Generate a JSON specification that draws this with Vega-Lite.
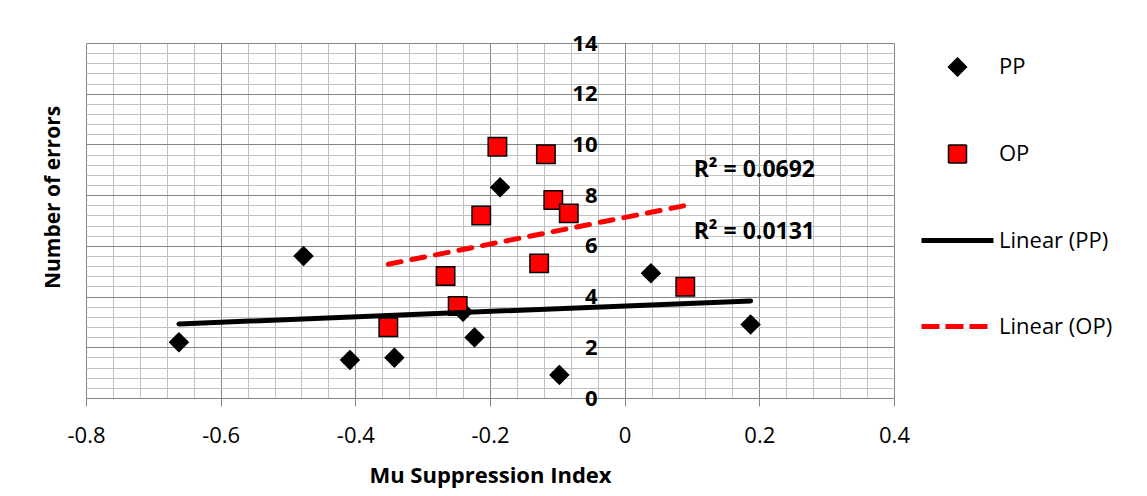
{
  "$schema": "https://vega.github.io/schema/vega-lite/v6.json",
  "width": 808,
  "height": 355,
  "autosize": {"type": "none"},
  "padding": {"left": 86, "top": 43, "right": 253, "bottom": 98},
  "background": "white",
  "config": {
    "view": {"stroke": null},
    "font": "Open Sans",
    "axis": {"labelColor": "black", "titleColor": "black", "labelFont": "Open Sans", "titleFont": "Open Sans"},
    "legend": {
      "orient": "none",
      "legendX": 860,
      "legendY": 13,
      "direction": "vertical",
      "padding": 0,
      "symbolSize": 324,
      "symbolOffset": 0,
      "labelFont": "Open Sans",
      "labelFontSize": 22,
      "labelColor": "black",
      "labelOffset": 30,
      "rowPadding": 63,
      "symbolOpacity": 1
    }
  },
  "datasets": {
    "pts": [
      {"series": "PP", "x": -0.662, "y": 2.20},
      {"series": "PP", "x": -0.477, "y": 5.60},
      {"series": "PP", "x": -0.408, "y": 1.50},
      {"series": "PP", "x": -0.342, "y": 1.59},
      {"series": "PP", "x": -0.240, "y": 3.40},
      {"series": "PP", "x": -0.223, "y": 2.39},
      {"series": "PP", "x": -0.185, "y": 8.31},
      {"series": "PP", "x": -0.097, "y": 0.91},
      {"series": "PP", "x": 0.039, "y": 4.92},
      {"series": "PP", "x": 0.187, "y": 2.90},
      {"series": "OP", "x": -0.351, "y": 2.79},
      {"series": "OP", "x": -0.266, "y": 4.81},
      {"series": "OP", "x": -0.248, "y": 3.63},
      {"series": "OP", "x": -0.213, "y": 7.20},
      {"series": "OP", "x": -0.189, "y": 9.91},
      {"series": "OP", "x": -0.127, "y": 5.31},
      {"series": "OP", "x": -0.117, "y": 9.61},
      {"series": "OP", "x": -0.106, "y": 7.81},
      {"series": "OP", "x": -0.083, "y": 7.28},
      {"series": "OP", "x": 0.090, "y": 4.39}
    ],
    "r2": [
      {"x": 0.1025, "y": 8.99, "label": "R² = 0.0692"},
      {"x": 0.1025, "y": 6.55, "label": "R² = 0.0131"}
    ]
  },
  "layer": [
    {
      "data": {"name": "pts"},
      "mark": {"type": "point", "filled": true, "size": 340, "opacity": 1},
      "encoding": {
        "x": {
          "field": "x", "type": "quantitative",
          "scale": {"domain": [-0.8, 0.4], "nice": false, "zero": false},
          "axis": {
            "values": [-0.8, -0.76, -0.72, -0.68, -0.64, -0.6, -0.56, -0.52, -0.48, -0.44, -0.4, -0.36, -0.32, -0.28, -0.24, -0.2, -0.16, -0.12, -0.08, -0.04, 0, 0.04, 0.08, 0.12, 0.16, 0.2, 0.24, 0.28, 0.32, 0.36, 0.4],
            "tickCount": 200,
            "grid": true,
            "gridColor": {"condition": {"test": "abs(datum.value*5 - round(datum.value*5)) < 0.001", "value": "#868686"}, "value": "#c0c0c0"},
            "gridWidth": 1,
            "labelExpr": "abs(datum.value*5 - round(datum.value*5)) < 0.001 ? toString(datum.value) : ''",
            "labelOverlap": false,
            "labelFlush": false,
            "labelFontSize": 22,
            "labelBaseline": "middle",
            "labelPadding": 29,
            "ticks": true,
            "tickSize": 8,
            "tickColor": "#868686",
            "tickOpacity": {"condition": {"test": "abs(datum.value*5 - round(datum.value*5)) < 0.001", "value": 1}, "value": 0},
            "domain": true,
            "domainColor": "#868686",
            "title": "Mu Suppression Index",
            "titleFontSize": 22,
            "titleFontWeight": "bold",
            "titleBaseline": "middle",
            "titleY": 77
          }
        },
        "y": {
          "field": "y", "type": "quantitative",
          "scale": {"domain": [0, 14], "nice": false, "zero": false},
          "axis": {
            "values": [0, 0.4, 0.8, 1.2, 1.6, 2, 2.4, 2.8, 3.2, 3.6, 4, 4.4, 4.8, 5.2, 5.6, 6, 6.4, 6.8, 7.2, 7.6, 8, 8.4, 8.8, 9.2, 9.6, 10, 10.4, 10.8, 11.2, 11.6, 12, 12.4, 12.8, 13.2, 13.6, 14],
            "tickCount": 200,
            "offset": -539,
            "grid": true,
            "gridColor": {"condition": {"test": "abs(datum.value/2 - round(datum.value/2)) < 0.001", "value": "#868686"}, "value": "#c0c0c0"},
            "gridWidth": 1,
            "labelExpr": "abs(datum.value/2 - round(datum.value/2)) < 0.001 ? toString(datum.value) : ''",
            "labelOverlap": false,
            "labelFlush": false,
            "labelFontSize": 22,
            "labelFontWeight": "bold",
            "labelAlign": "right",
            "labelBaseline": "middle",
            "labelPadding": 28,
            "ticks": false,
            "tickSize": 0,
            "domain": false,
            "title": "Number of errors",
            "titleFontSize": 21,
            "titleFontWeight": "bold",
            "titleAngle": -90,
            "titleAlign": "center",
            "titleBaseline": "middle",
            "titleX": -572,
            "titleY": 154
          }
        },
        "shape": {
          "field": "series", "type": "nominal",
          "scale": {"domain": ["PP", "OP", "Linear (PP)", "Linear (OP)"], "range": ["diamond", "square", "M-4,0L4,0", "M-4,0L4,0"]},
          "legend": {"title": null}
        },
        "fill": {
          "field": "series", "type": "nominal",
          "scale": {"domain": ["PP", "OP", "Linear (PP)", "Linear (OP)"], "range": ["black", "#ff0000", "transparent", "transparent"]},
          "legend": {"title": null}
        },
        "stroke": {
          "field": "series", "type": "nominal",
          "scale": {"domain": ["PP", "OP", "Linear (PP)", "Linear (OP)"], "range": ["black", "black", "black", "#ff0000"]},
          "legend": {"title": null}
        },
        "strokeWidth": {
          "field": "series", "type": "nominal",
          "scale": {"type": "ordinal", "domain": ["PP", "OP", "Linear (PP)", "Linear (OP)"], "range": [1.5, 1.5, 5, 5]},
          "legend": {"title": null}
        },
        "strokeDash": {
          "field": "series", "type": "nominal",
          "scale": {"domain": ["PP", "OP", "Linear (PP)", "Linear (OP)"], "range": [[1, 0], [1, 0], [1, 0], [18, 6]]},
          "legend": {"title": null}
        }
      }
    },
    {
      "data": {"name": "pts"},
      "transform": [{"filter": "datum.series === 'PP'"}, {"regression": "y", "on": "x"}],
      "mark": {"type": "line", "color": "black", "strokeWidth": 5, "strokeCap": "round"},
      "encoding": {
        "x": {"field": "x", "type": "quantitative"},
        "y": {"field": "y", "type": "quantitative"}
      }
    },
    {
      "data": {"name": "pts"},
      "transform": [{"filter": "datum.series === 'OP'"}, {"regression": "y", "on": "x"}],
      "mark": {"type": "line", "color": "#ff0000", "strokeWidth": 5, "strokeCap": "round", "strokeDash": [13, 11]},
      "encoding": {
        "x": {"field": "x", "type": "quantitative"},
        "y": {"field": "y", "type": "quantitative"}
      }
    },
    {
      "data": {"name": "r2"},
      "mark": {"type": "text", "align": "left", "baseline": "middle", "fontSize": 23, "fontWeight": "bold", "font": "Open Sans", "color": "black"},
      "encoding": {
        "x": {"field": "x", "type": "quantitative"},
        "y": {"field": "y", "type": "quantitative"},
        "text": {"field": "label"}
      }
    }
  ]
}
